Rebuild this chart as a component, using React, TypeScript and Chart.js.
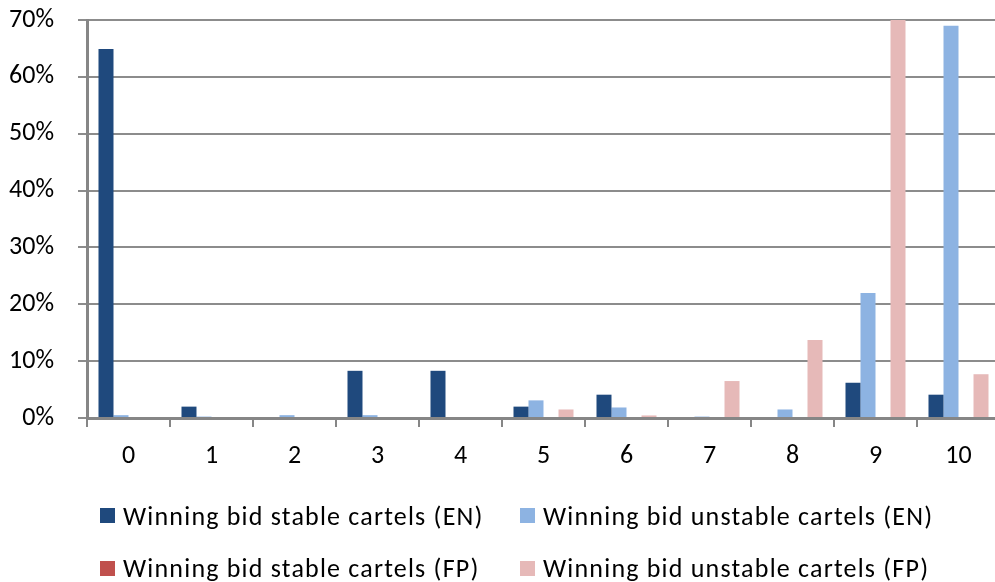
import React, { useEffect, useRef } from "react";
import { Chart, registerables } from "chart.js";

Chart.register(...registerables);

const categories = ["0", "1", "2", "3", "4", "5", "6", "7", "8", "9", "10"];
const stableEN = [64.9, 2.0, 0, 8.3, 8.3, 2.0, 4.1, 0, 0, 6.2, 4.1];
const unstableEN = [0.5, 0.25, 0.5, 0.5, 0, 3.1, 1.85, 0.25, 1.5, 22.0, 69.0];
const stableFP = [0, 0, 0, 0, 0, 0, 0, 0, 0, 0, 0];
const unstableFP = [0, 0, 0, 0, 0, 1.5, 0.45, 6.5, 13.7, 70.0, 7.7];
const seriesNames = [
  "Winning bid stable cartels (EN)",
  "Winning bid unstable cartels (EN)",
  "Winning bid stable cartels (FP)",
  "Winning bid unstable cartels (FP)",
];
const seriesColors = ["#1F497D", "#8DB3E2", "#C0504D", "#E6B9B8"];
const yTicks = [0, 10, 20, 30, 40, 50, 60, 70];

const FONT = "Carlito, Lato, 'Liberation Sans', sans-serif";

export default function App() {
  const ref = useRef<HTMLCanvasElement | null>(null);
  useEffect(() => {
    if (!ref.current) return;
    const values = [stableEN, unstableEN, stableFP, unstableFP];
    const chart = new Chart(ref.current, {
      type: "bar",
      data: {
        labels: categories,
        datasets: values.map((d, i) => ({
          label: seriesNames[i],
          data: d,
          backgroundColor: seriesColors[i],
          borderWidth: 0,
          categoryPercentage: 0.723,
          barPercentage: 1,
        })),
      },
      options: {
        animation: false,
        responsive: false,
        maintainAspectRatio: false,
        layout: { padding: { left: 0, right: 0, top: 20, bottom: 0 } },
        plugins: { legend: { display: false }, tooltip: { enabled: false } },
        scales: {
          x: {
            offset: true,
            grid: {
              offset: true,
              drawOnChartArea: false,
              drawTicks: true,
              tickLength: 9,
              color: "#868686",
              lineWidth: 2,
            },
            border: { color: "#868686", width: 3 },
            ticks: {
              color: "#000",
              padding: 14,
              font: { family: FONT, size: 26 },
            },
            afterFit: (s: any) => {
              s.height = 164;
              s.paddingLeft = 0;
              s.paddingRight = 0;
            },
          },
          y: {
            min: 0,
            max: 70,
            afterBuildTicks: (s: any) => {
              s.ticks = yTicks.map((v) => ({ value: v }));
            },
            grid: {
              color: "#8c8c8c",
              lineWidth: 2,
              tickLength: 9,
            },
            border: { color: "#868686", width: 3 },
            ticks: {
              color: "#000",
              padding: 24,
              font: { family: FONT, size: 26 },
              callback: (v: any) => v + "%",
            },
            afterFit: (s: any) => {
              s.width = 87;
              s.paddingTop = 0;
              s.paddingBottom = 0;
            },
          },
        },
      },
    });
    return () => chart.destroy();
  }, []);

  const legendPos = [
    { left: 100, top: 515.5 },
    { left: 520, top: 515.5 },
    { left: 100, top: 568 },
    { left: 520, top: 568 },
  ];

  return (
    <div
      style={{
        position: "fixed",
        left: 0,
        top: 0,
        width: 1000,
        height: 582,
        background: "#fff",
      }}
    >
      <canvas ref={ref} width={1000} height={582} style={{ display: "block" }} />
      {seriesNames.map((name, i) => (
        <div
          key={name}
          style={{
            position: "absolute",
            left: legendPos[i].left,
            top: legendPos[i].top,
            transform: "translateY(-50%)",
            display: "flex",
            alignItems: "center",
            fontFamily: FONT,
            fontSize: 26,
            letterSpacing: 1.2,
            color: "#000",
            whiteSpace: "nowrap",
          }}
        >
          <span
            style={{
              display: "inline-block",
              width: 15,
              height: 15,
              background: seriesColors[i],
              marginRight: 8,
            }}
          />
          <span>{name}</span>
        </div>
      ))}
    </div>
  );
}
